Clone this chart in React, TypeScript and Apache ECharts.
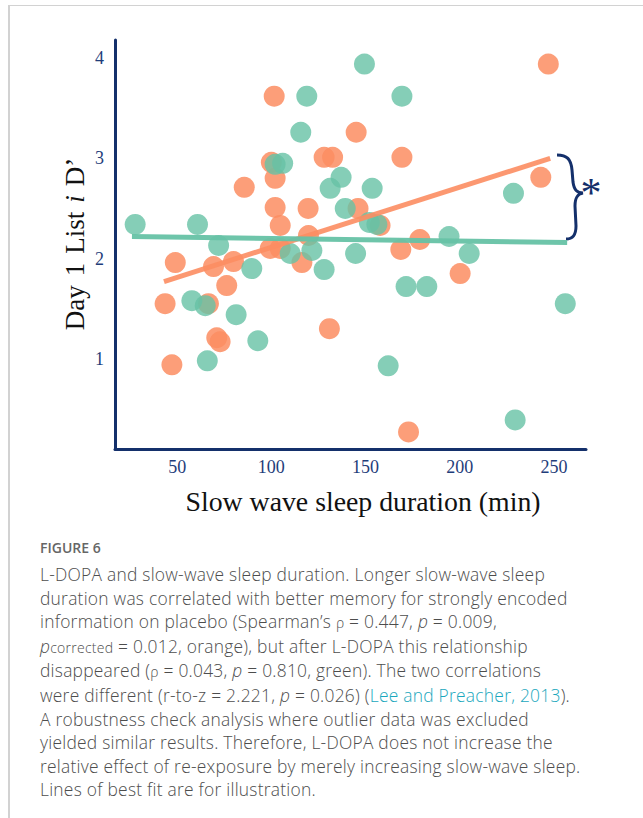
import React, { useEffect, useRef } from "react";
import * as echarts from "echarts";

// Orange (placebo) points: [slow wave sleep min, Day 1 List i D']
const orangePoints: number[][] = [
  [43.6, 1.55], [47.2, 0.94], [49, 1.96], [66.6, 1.55], [69.3, 1.92],
  [71, 1.21], [72.8, 1.17], [76.3, 1.73], [79.9, 1.97], [85.6, 2.71],
  [99.4, 2.1], [100, 2.96], [101.5, 3.62], [102, 2.8], [102, 2.51],
  [104.7, 2.33], [104.7, 2.1], [116.2, 1.96], [119.5, 2.5], [119.7, 2.23],
  [128, 3.01], [132.5, 3.01], [130.8, 1.3], [145, 3.26], [146, 2.5],
  [157.7, 2.33], [168.7, 2.09], [169.3, 3.01], [172.8, 0.27], [178.8, 2.19],
  [200.2, 1.85], [243, 2.81], [247, 3.94],
];

// Green (L-DOPA) points
const greenPoints: number[][] = [
  [27.7, 2.34], [57.8, 1.58], [60.8, 2.34], [64.9, 1.53], [66, 0.98],
  [72, 2.13], [81.3, 1.44], [89.6, 1.9], [92.8, 1.18], [102, 2.94],
  [106, 2.95], [110, 2.05], [115.6, 3.26], [118.8, 3.62], [121.5, 2.08],
  [128, 1.89], [131.2, 2.7], [137, 2.81], [139.2, 2.5], [144.7, 2.05],
  [149.4, 3.94], [153.5, 2.7], [152, 2.36], [156, 2.34], [162, 0.93],
  [169.3, 3.62], [171.5, 1.72], [182.5, 1.72], [194.3, 2.22], [205, 2.05],
  [228.5, 2.65], [229.4, 0.39], [256, 1.55],
];

// Lines of best fit (end points)
const orangeFit: number[][] = [[43, 1.77], [248, 3.0]];
const greenFit: number[][] = [[26, 2.22], [257, 2.16]];

const xTicks = [50, 100, 150, 200, 250];
const yTicks = [1, 2, 3, 4];

const NAVY = "#14306b";
const ORANGE = "#fc8d62";
const GREEN = "#66c2a5";

const bracePath =
  "M557,155 C567,155 571,159 572,170 L573,182 C574,190 577,193 583,193 C577,194 575,198 575,206 L576,226 C576,235 573,239 566,239";
echarts.graphic.registerShape("brace", (echarts.graphic as any).extendPath(bracePath, {}));

function Chart() {
  const ref = useRef<HTMLDivElement>(null);
  useEffect(() => {
    if (!ref.current) return;
    const chart = echarts.init(ref.current, null, { renderer: "svg" });
    const serif = "'Liberation Serif', 'Times New Roman', serif";
    const sp = "\u2004";
    chart.setOption({
      animation: false,
      grid: { left: 115, right: 57, top: 40, bottom: 81 },
      xAxis: {
        type: "value",
        min: 17,
        max: 267,
        splitLine: { show: false },
        axisTick: { show: false },
        axisLine: { show: true, onZero: false, lineStyle: { color: NAVY, width: 3 } },
        axisLabel: {
          customValues: xTicks,
          color: "#1f3d7a",
          fontFamily: serif,
          fontSize: 18,
          margin: 9,
        },
      },
      yAxis: {
        type: "value",
        min: 0.1,
        max: 4.18,
        splitLine: { show: false },
        axisTick: { show: false },
        axisLine: { show: true, onZero: false, lineStyle: { color: NAVY, width: 3 } },
        axisLabel: {
          customValues: yTicks,
          color: "#1f3d7a",
          fontFamily: serif,
          fontSize: 18,
          margin: 11,
        },
      },
      series: [
        {
          type: "scatter",
          data: orangePoints,
          symbolSize: 21,
          itemStyle: { color: ORANGE, opacity: 0.85 },
          z: 2,
        },
        {
          type: "scatter",
          data: greenPoints,
          symbolSize: 21,
          itemStyle: { color: GREEN, opacity: 0.8 },
          z: 3,
        },
        {
          type: "line",
          data: orangeFit,
          symbol: "none",
          lineStyle: { color: ORANGE, width: 5, opacity: 0.9 },
          z: 4,
        },
        {
          type: "line",
          data: greenFit,
          symbol: "none",
          lineStyle: { color: GREEN, width: 5, opacity: 0.95 },
          z: 4,
        },
      ],
      graphic: [
        {
          type: "text",
          x: 75,
          y: 244,
          rotation: Math.PI / 2,
          style: {
            text: `Day${sp}1${sp}List${sp}{i|i}${sp}D’`,
            font: `27px ${serif}`,
            fill: "#111",
            align: "center",
            verticalAlign: "middle",
            rich: { i: { fontStyle: "italic", fontFamily: serif, fontSize: 27, fill: "#111" } },
          } as any,
        },
        {
          type: "text",
          x: 363,
          y: 501,
          style: {
            text: "Slow wave sleep duration (min)",
            font: `27.8px ${serif}`,
            fill: "#111",
            align: "center",
            verticalAlign: "middle",
          },
        },
        {
          type: "brace",
          x: 0,
          y: 0,
          style: { stroke: NAVY, lineWidth: 3, fill: "none" },
        } as any,
        {
          type: "text",
          x: 591,
          y: 193,
          style: {
            text: "*",
            font: `42px ${serif}`,
            fill: NAVY,
            align: "center",
            verticalAlign: "middle",
          },
        },
      ],
    });
    return () => chart.dispose();
  }, []);
  return <div ref={ref} style={{ position: "absolute", left: 0, top: 0, width: 643, height: 530 }} />;
}

const cap: React.CSSProperties = {
  position: "absolute",
  left: 40,
  top: 563,
  fontFamily: "'Open Sans', 'Noto Sans', sans-serif",
  fontSize: 17.4,
  fontWeight: 300,
  letterSpacing: "0.25px",
  lineHeight: "23.6px",
  color: "#4d4d4d",
  whiteSpace: "nowrap",
};

const I = (s: string) => <i>{s}</i>;
const rho = <span style={{ fontSize: 14 }}>ρ</span>;

export default function App() {
  return (
    <div style={{ position: "absolute", left: 0, top: 0, width: 643, height: 818, background: "#fff", overflow: "hidden" }}>
      <div
        style={{
          position: "absolute",
          left: 8,
          top: 5,
          width: 643,
          height: 830,
          borderLeft: "2px solid #d2d2d2",
          borderTop: "1px solid #d2d2d2",
        }}
      />
      <Chart />
      <div
        style={{
          position: "absolute",
          left: 40,
          top: 538,
          fontFamily: "'Open Sans', 'Noto Sans', sans-serif",
          fontSize: 14,
          fontWeight: 600,
          color: "#666",
        }}
      >
        FIGURE 6
      </div>
      <div style={cap}>
        L-DOPA and slow-wave sleep duration. Longer slow-wave sleep
        <br />
        duration was correlated with better memory for strongly encoded
        <br />
        information on placebo (Spearman’s {rho} = 0.447, {I("p")} = 0.009,
        <br />
        {I("p")}
        <span style={{ fontSize: 14 }}>corrected</span> = 0.012, orange), but after L-DOPA this relationship
        <br />
        disappeared ({rho} = 0.043, {I("p")} = 0.810, green). The two correlations
        <br />
        were different (r-to-z = 2.221, {I("p")} = 0.026) (<span style={{ color: "#1aa7bd" }}>Lee and Preacher, 2013</span>).
        <br />
        A robustness check analysis where outlier data was excluded
        <br />
        yielded similar results. Therefore, L-DOPA does not increase the
        <br />
        relative effect of re-exposure by merely increasing slow-wave sleep.
        <br />
        Lines of best fit are for illustration.
      </div>
    </div>
  );
}
